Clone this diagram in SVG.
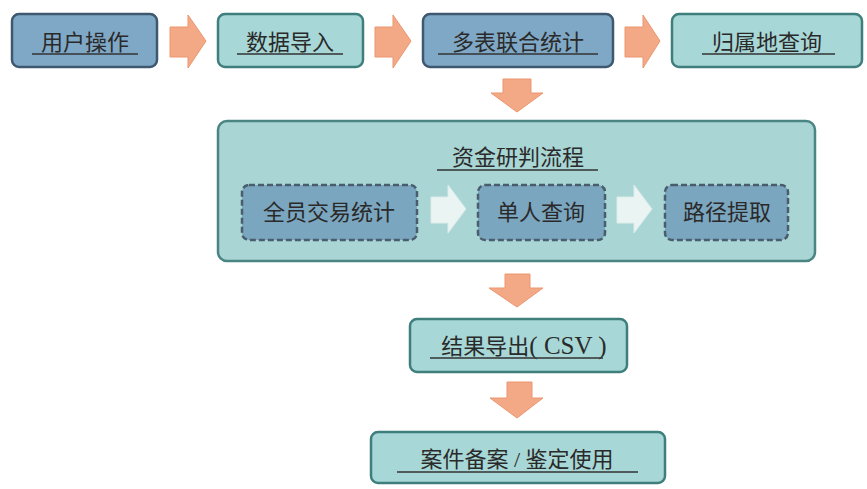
<svg xmlns="http://www.w3.org/2000/svg" width="867" height="489" viewBox="0 0 867 489">
<defs>
<style>
.blue{fill:#7fa8c6;stroke:#3d5870;stroke-width:2.5}
.teal{fill:#a7d7d6;stroke:#3e7f7e;stroke-width:2.5}
.cont{fill:#a9d6d5;stroke:#4a8584;stroke-width:2.5}
.dash{fill:#7ba6bf;stroke:#495d6d;stroke-width:2.5;stroke-dasharray:6 3}
.oa{fill:#f3a985;stroke:#eb9670;stroke-width:1}
.wa{fill:#eaf4f3;stroke:#dcebea;stroke-width:1}
.t{font-family:"Liberation Serif","Noto Sans CJK SC",serif;font-size:22px;fill:#2a2a2a;text-anchor:middle}
.u{stroke:#333;stroke-width:1.6}
</style>
</defs>
<rect width="867" height="489" fill="#ffffff"/>
<g id="n1">
<rect class="blue" x="12" y="14" width="145" height="53" rx="7"/>
<text class="t" x="85" y="50">用户操作</text>
<line class="u" x1="32" y1="54" x2="138" y2="54"/>
</g>
<g id="n2">
<rect class="teal" x="218" y="14" width="145" height="53" rx="7"/>
<text class="t" x="290" y="50">数据导入</text>
<line class="u" x1="237" y1="54" x2="343" y2="54"/>
</g>
<g id="n3">
<rect class="blue" x="423" y="14" width="190" height="53" rx="7"/>
<text class="t" x="518" y="50">多表联合统计</text>
<line class="u" x1="438" y1="54" x2="598" y2="54"/>
</g>
<g id="n4">
<rect class="teal" x="672" y="14" width="190" height="53" rx="7"/>
<text class="t" x="767" y="50">归属地查询</text>
<line class="u" x1="702" y1="54" x2="835" y2="54"/>
</g>
<g id="n5">
<rect class="cont" x="218" y="121" width="597" height="140" rx="9"/>
<text class="t" x="518" y="165">资金研判流程</text>
<line class="u" x1="437" y1="170" x2="598" y2="170"/>
</g>
<g id="n6">
<rect class="dash" x="242" y="185" width="175" height="55" rx="7"/>
<text class="t" x="329" y="220">全员交易统计</text>
</g>
<g id="n7">
<rect class="dash" x="478" y="185" width="127" height="55" rx="7"/>
<text class="t" x="541" y="220">单人查询</text>
</g>
<g id="n8">
<rect class="dash" x="665" y="185" width="123" height="55" rx="7"/>
<text class="t" x="727" y="220">路径提取</text>
</g>
<g id="n9">
<rect class="teal" x="410" y="319" width="217" height="53" rx="7"/>
<text class="t" x="524" y="354">结果导出<tspan font-size="25">( CSV )</tspan></text>
<line class="u" x1="430" y1="358" x2="603" y2="358"/>
</g>
<g id="n10">
<rect class="teal" x="371" y="432" width="294" height="51" rx="7"/>
<text class="t" x="517" y="467">案件备案 / 鉴定使用</text>
<line class="u" x1="397" y1="472" x2="638" y2="472"/>
</g>
<g id="connectors">
<polygon class="oa" points="170,27 188,27 188,15 206,41 188,68 188,57 170,57"/>
<polygon class="oa" points="375,27 393,27 393,15 411,41 393,68 393,57 375,57"/>
<polygon class="oa" points="625,27 643,27 643,15 660,41 643,68 643,57 625,57"/>
<polygon class="oa" points="503,79 531,79 531,93 543,93 517,112 491,93 503,93"/>
<polygon class="oa" points="505,274 530,274 530,288 543,288 517,307 489,288 505,288"/>
<polygon class="oa" points="507,382 532,382 532,398 543,398 517,418 490,398 507,398"/>
<polygon class="wa" points="431,197 448,197 448,185 466,209 448,233 448,223 431,223"/>
<polygon class="wa" points="617,197 634,197 634,185 652,209 634,233 634,223 617,223"/>
</g>
</svg>
